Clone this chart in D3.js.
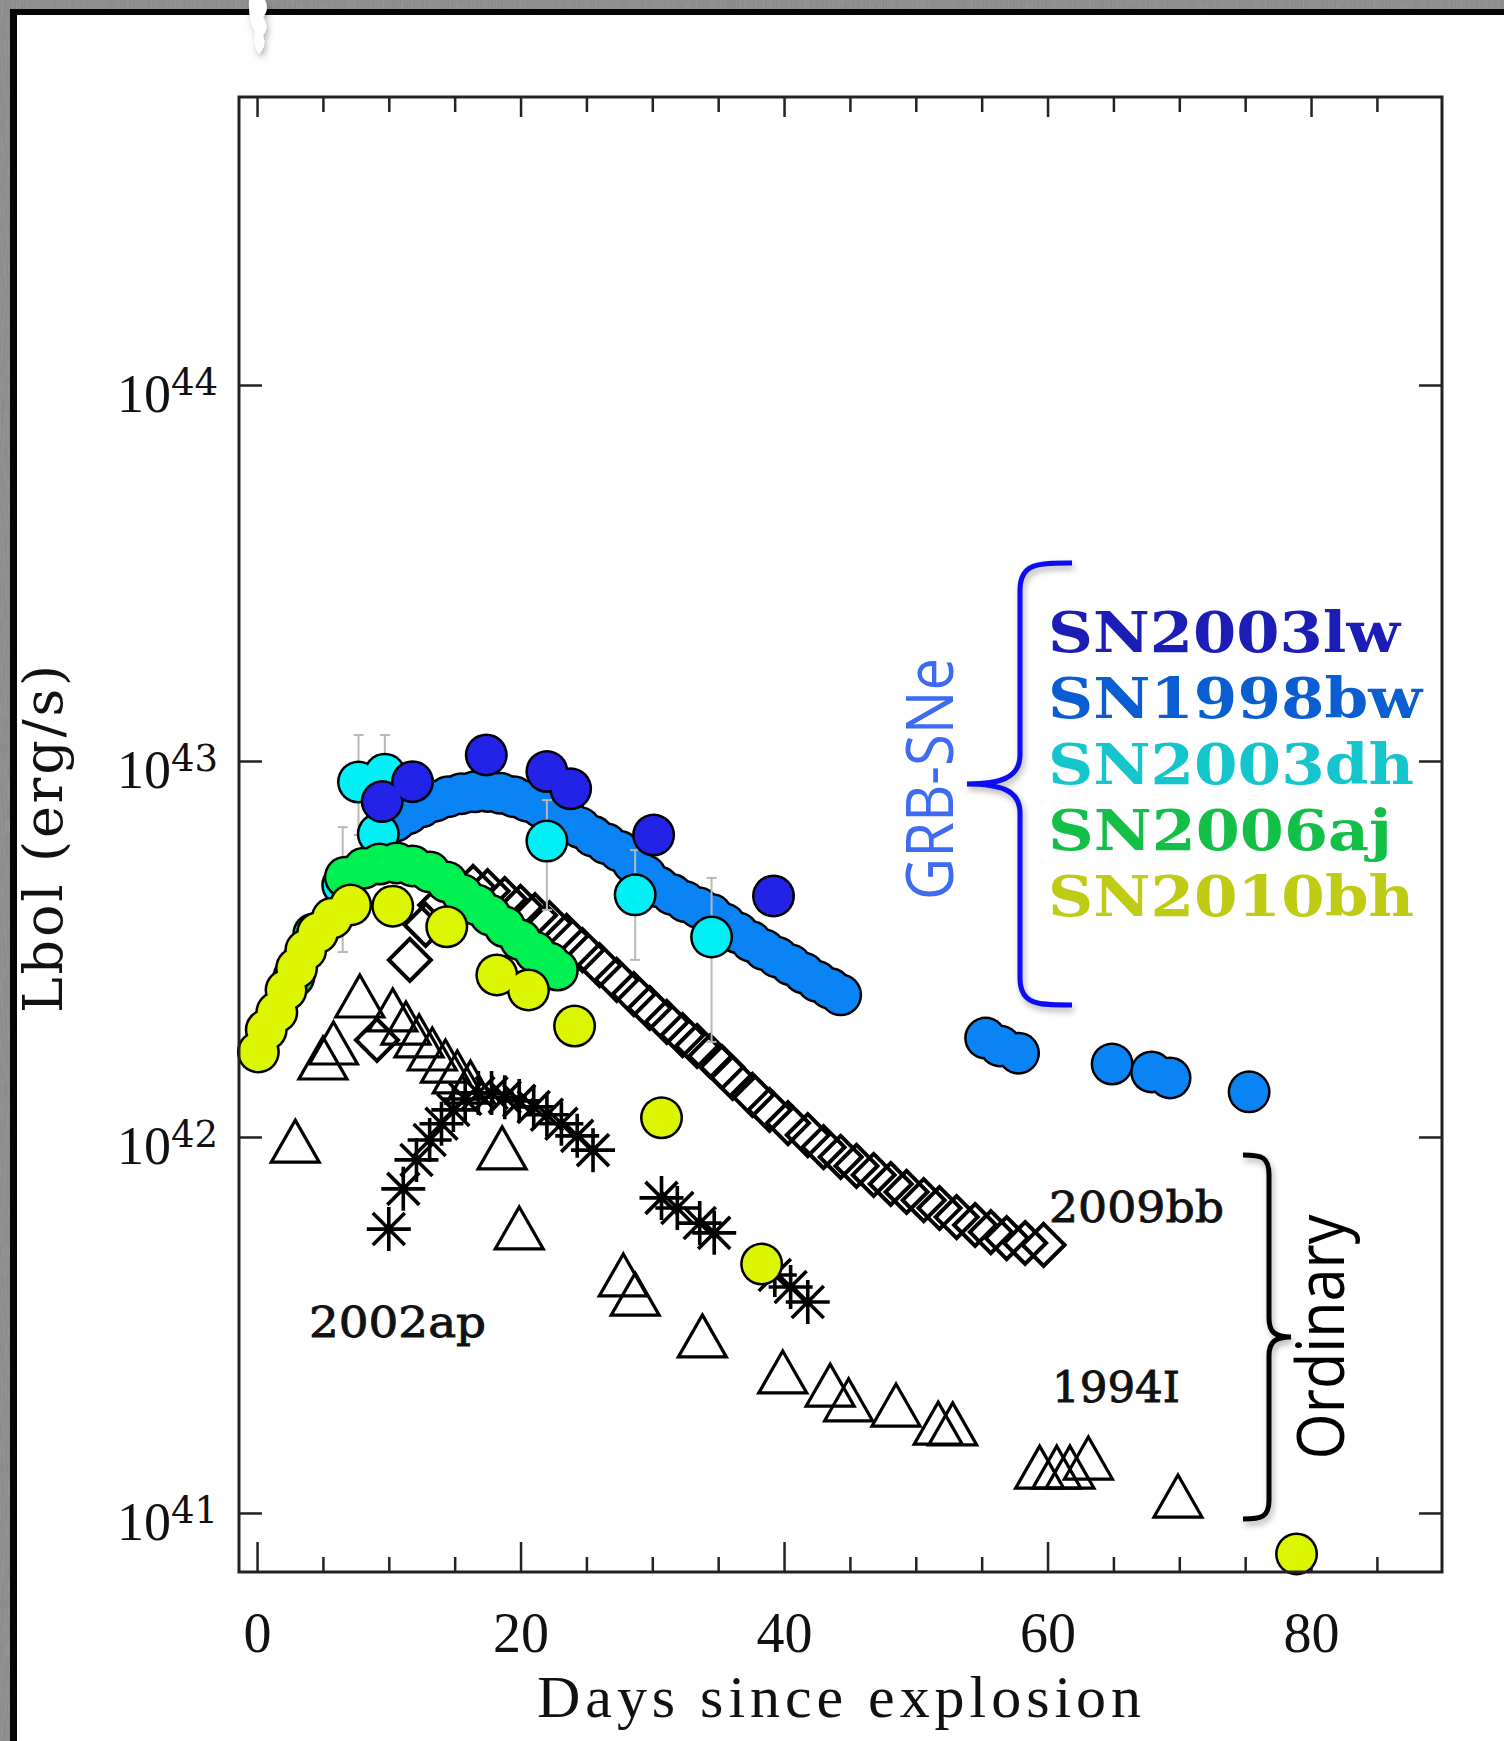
<!DOCTYPE html>
<html>
<head>
<meta charset="utf-8">
<script src="https://cdn.jsdelivr.net/npm/d3@7"></script>
<style>
  body { margin: 0; background: #8a8a8a; }
</style>
</head>
<body>
<div id="graf"></div>
<script>
// -- Data: days since explosion / log10 Lbol (erg/s)
const lw03Day = [9.5, 11.8, 17.4, 22.0, 23.8, 30.1, 39.2]
const lw03Lum = [42.892, 42.945, 43.016, 42.972, 42.926, 42.803, 42.641]

const bw98Day = [10.5, 11.5, 12.5, 13.5, 14.5, 15.5, 16.5, 17.5, 18.5, 19.5, 20.5, 21.5, 22.5, 23.5, 24.5, 25.5, 26.5, 27.5, 28.5, 29.5,
                 30.5, 31.5, 32.5, 33.5, 34.5, 35.5, 36.5, 37.5, 38.5, 39.5, 40.5, 41.5, 42.5, 43.5, 44.3,
                 55.3, 56.4, 57.8, 64.9, 67.9, 69.3, 75.3]
const bw98Lum = [42.840, 42.860, 42.878, 42.893, 42.905, 42.913, 42.918, 42.919, 42.914, 42.905, 42.893, 42.878, 42.863, 42.845, 42.823, 42.800, 42.780, 42.760, 42.730, 42.695,
                 42.665, 42.645, 42.626, 42.610, 42.592, 42.567, 42.543, 42.520, 42.498, 42.478, 42.458, 42.436, 42.414, 42.395, 42.378,
                 42.263, 42.242, 42.223, 42.194, 42.173, 42.157, 42.120]

const dh03Day = [6.5, 7.7, 9.7, 9.2, 22.0, 28.7, 34.5]
const dh03Lum = [42.670, 42.944, 42.965, 42.806, 42.787, 42.644, 42.532]
const dh03Lo  = [42.492, 42.803, 42.830, null, 42.604, 42.471, 42.253]
const dh03Hi  = [42.824, 43.069, 43.069, null, 42.896, 42.763, 42.689]

const aj06Day = [2.8, 4.3, 6.7, 8.1, 9.3, 10.6, 11.8, 13.1, 14.4, 15.6, 16.7, 17.7, 18.8, 20.0, 21.1, 22.2, 22.8]
const aj06Lum = [42.426, 42.540, 42.691, 42.715, 42.726, 42.729, 42.721, 42.705, 42.678, 42.644, 42.617, 42.590, 42.559, 42.524, 42.492, 42.463, 42.444]

const bh10Day = [0.1, 0.7, 1.5, 2.2, 3.0, 3.7, 4.6, 5.7, 7.1, 10.3, 14.4, 18.2, 20.6, 24.1, 30.7, 38.3, 78.9]
const bh10Lum = [42.226, 42.285, 42.332, 42.391, 42.449, 42.497, 42.543, 42.582, 42.617, 42.614, 42.559, 42.431, 42.391, 42.295, 42.051, 41.662, 40.891]

const bb09Day = [9.1, 11.6, 12.8, 13.9, 15.3, 16.4, 17.5, 18.8, 20.0, 21.1, 22.2, 23.5, 24.7, 26.0, 27.3, 28.6, 29.8, 31.1, 32.3, 33.4,
                 34.4, 35.3, 36.1, 37.6, 38.9, 40.3, 41.8, 43.0, 44.3, 45.5, 46.8, 48.1, 49.3, 50.6, 51.8, 53.1, 54.5, 55.7, 56.9, 58.3, 59.7]
const bb09Lum = [42.258, 42.471, 42.564, 42.617, 42.652, 42.665, 42.654, 42.633, 42.612, 42.590, 42.569, 42.535, 42.497, 42.457, 42.418, 42.380, 42.343, 42.306, 42.271, 42.242,
                 42.215, 42.186, 42.157, 42.112, 42.072, 42.037, 42.005, 41.973, 41.947, 41.923, 41.899, 41.875, 41.854, 41.832, 41.811, 41.787, 41.766, 41.747, 41.731, 41.718, 41.713]

const ap02Day = [10.0, 11.1, 12.1, 13.1, 14.0, 14.9, 15.8, 16.8, 17.8, 18.8, 19.9, 21.0, 22.0, 23.1, 24.3, 25.5, 30.7, 31.9, 33.6, 34.7, 39.3, 40.5, 41.8]
const ap02Lum = [41.755, 41.862, 41.939, 41.992, 42.035, 42.072, 42.101, 42.117, 42.117, 42.106, 42.096, 42.080, 42.059, 42.035, 42.003, 41.965, 41.838, 41.811, 41.771, 41.745, 41.633, 41.601, 41.561]

const i94Day = [2.9, 5.0, 5.8, 7.8, 10.3, 11.3, 12.3, 13.3, 14.3, 15.2, 16.2, 18.6, 19.9, 27.8, 28.7, 33.8, 39.9, 43.5, 44.9, 48.5, 51.7, 52.8, 59.4, 60.7, 61.7, 63.1, 69.9]
const i94Lum = [41.989, 42.210, 42.250, 42.375, 42.338, 42.303, 42.269, 42.234, 42.202, 42.173, 42.146, 41.971, 41.758, 41.633, 41.582, 41.471, 41.375, 41.340, 41.301, 41.287, 41.239, 41.237, 41.122, 41.122, 41.122, 41.146, 41.045]

const xTicks = [0, 20, 40, 60, 80]
const xMinor = [5, 10, 15, 25, 30, 35, 45, 50, 55, 65, 70, 75, 85]
const yTicks = [41, 42, 43, 44]

const legendNames  = ['SN2003lw', 'SN1998bw', 'SN2003dh', 'SN2006aj', 'SN2010bh']
const legendColors = ['#1c1cb6', '#0b5ed2', '#14c6cc', '#13bf46', '#bfcb14']

// -- Canvas
const W = 1504, H = 1741
const svg = d3.select('#graf').append('svg')
              .attr('width', W)
              .attr('height', H)

const defs = svg.append('defs')
const noise = defs.append('filter').attr('id', 'noise')
noise.append('feTurbulence').attr('type', 'fractalNoise').attr('baseFrequency', '0.9 0.05').attr('numOctaves', 2)
noise.append('feColorMatrix').attr('type', 'saturate').attr('values', 0)
const shadow = defs.append('filter').attr('id', 'shadow').attr('x', '-20%').attr('y', '-10%').attr('width', '160%').attr('height', '130%')
shadow.append('feDropShadow').attr('dx', 2).attr('dy', 4).attr('stdDeviation', 3).attr('flood-opacity', 0.3)

// -- Page frame (grey border, black line, white sheet)
svg.append('rect').attr('width', W).attr('height', H).attr('fill', '#888')
svg.append('rect').attr('width', W).attr('height', H).attr('filter', 'url(#noise)').attr('opacity', 0.25)
svg.append('rect').attr('x', 10).attr('y', 9).attr('width', W).attr('height', H).attr('fill', '#050505')
svg.append('rect').attr('x', 17).attr('y', 15).attr('width', W).attr('height', H).attr('fill', '#fff')
svg.append('path')
   .attr('d', 'M249,0 L265,0 Q270,9 263,17 Q270,27 263,36 Q267,46 259,54 Q252,45 255,32 Q248,20 249,0 Z')
   .attr('fill', '#fff')
   .attr('filter', 'url(#shadow)')

// -- Scales
const x = d3.scaleLinear().domain([-1.37, 89.94]).range([239, 1442])
const y = d3.scaleLinear().domain([40.843, 44.766]).range([1572, 97])

// -- Axes / ticks
const tickStyle = g => {
    g.select('.domain').remove()
    g.selectAll('line').attr('stroke', '#222').attr('stroke-width', 2.5)
}
svg.append('g').attr('transform', 'translate(0,1572)')
   .call(d3.axisBottom(x).tickValues(xTicks).tickSize(-30).tickFormat(''))
   .call(tickStyle)
svg.append('g').attr('transform', 'translate(0,1572)')
   .call(d3.axisBottom(x).tickValues(xMinor).tickSize(-15).tickFormat(''))
   .call(tickStyle)
svg.append('g').attr('transform', 'translate(0,97)')
   .call(d3.axisTop(x).tickValues(xTicks).tickSize(-20).tickFormat(''))
   .call(tickStyle)
svg.append('g').attr('transform', 'translate(0,97)')
   .call(d3.axisTop(x).tickValues(xMinor).tickSize(-15).tickFormat(''))
   .call(tickStyle)
svg.append('g').attr('transform', 'translate(239,0)')
   .call(d3.axisLeft(y).tickValues(yTicks).tickSize(-23).tickFormat(''))
   .call(tickStyle)
svg.append('g').attr('transform', 'translate(1442,0)')
   .call(d3.axisRight(y).tickValues(yTicks).tickSize(-23).tickFormat(''))
   .call(tickStyle)

// x labels
svg.append('g').attr('transform', 'translate(0,1572)')
   .call(d3.axisBottom(x).tickValues(xTicks).tickSize(0).tickPadding(40).tickFormat(d3.format('d')))
   .call(g => g.select('.domain').remove())
   .selectAll('text')
   .attr('font-family', 'Liberation Serif')
   .attr('font-size', 56)
   .attr('fill', '#111')

// y labels 10^n
const yLab = svg.append('g').selectAll('text')
                .data(yTicks)
                .join('text')
                .attr('x', 218)
                .attr('y', d => y(d) + 27)
                .attr('text-anchor', 'end')
                .attr('fill', '#111')
yLab.append('tspan').text('10')
    .attr('font-family', 'Liberation Serif')
    .attr('font-size', 54)
yLab.append('tspan').text(d => d)
    .attr('font-family', 'DejaVu Serif')
    .attr('font-size', 37)
    .attr('dy', -17)

// axis titles
svg.append('text')
   .attr('x', 839).attr('y', 1717)
   .attr('text-anchor', 'middle')
   .attr('font-family', 'Liberation Serif')
   .attr('font-size', 60)
   .attr('textLength', 604)
   .attr('lengthAdjust', 'spacing')
   .attr('fill', '#111')
   .text('Days since explosion')
svg.append('text')
   .attr('transform', 'translate(62,839) rotate(-90)')
   .attr('text-anchor', 'middle')
   .attr('font-family', 'DejaVu Serif')
   .attr('font-size', 54)
   .attr('textLength', 348)
   .attr('lengthAdjust', 'spacing')
   .attr('fill', '#111')
   .text('Lbol (erg/s)')

// -- Marker shapes
const triPath = 'M0,-21 L24,21 L-24,21 Z'
const diaPath = 'M0,-21 L21,0 L0,21 L-21,0 Z'
const astPath = 'M-22,0 L22,0 M0,-22 L0,22 M-16,-16 L16,16 M-16,16 L16,-16'
const pos = d => `translate(${x(d[0])},${y(d[1])})`

function openMarks (days, lums, path, sw) {
    svg.append('g').selectAll('path')
       .data(d3.zip(days, lums))
       .join('path')
       .attr('d', path)
       .attr('transform', pos)
       .attr('fill', 'none')
       .attr('stroke', '#000')
       .attr('stroke-width', sw)
}

// circles: outline pass then fill pass, so overlapping bands stay clean
function circles (days, lums, color) {
    const data = d3.zip(days, lums)
    const g = svg.append('g')
    g.selectAll('circle.o').data(data).join('circle')
     .attr('class', 'o')
     .attr('cx', d => x(d[0])).attr('cy', d => y(d[1]))
     .attr('r', 21.5).attr('fill', '#000')
    g.selectAll('circle.f').data(data).join('circle')
     .attr('class', 'f')
     .attr('cx', d => x(d[0])).attr('cy', d => y(d[1]))
     .attr('r', 19).attr('fill', color)
}

openMarks(i94Day, i94Lum, triPath, 3.2)
openMarks(bb09Day, bb09Lum, diaPath, 4)
openMarks(ap02Day, ap02Lum, astPath, 3.6)

circles(bw98Day, bw98Lum, '#0a84f5')

// error bars SN2003dh
const errs = d3.zip(dh03Day, dh03Lo, dh03Hi).filter(d => d[1] !== null)
const eg = svg.append('g').attr('stroke', '#b8b8b8').attr('stroke-width', 2)
eg.selectAll('line.v').data(errs).join('line')
  .attr('class', 'v')
  .attr('x1', d => x(d[0])).attr('x2', d => x(d[0]))
  .attr('y1', d => y(d[1])).attr('y2', d => y(d[2]))
eg.selectAll('line.t').data(errs).join('line')
  .attr('class', 't')
  .attr('x1', d => x(d[0]) - 5).attr('x2', d => x(d[0]) + 5)
  .attr('y1', d => y(d[2])).attr('y2', d => y(d[2]))
eg.selectAll('line.b').data(errs).join('line')
  .attr('class', 'b')
  .attr('x1', d => x(d[0]) - 5).attr('x2', d => x(d[0]) + 5)
  .attr('y1', d => y(d[1])).attr('y2', d => y(d[1]))

circles(dh03Day, dh03Lum, '#00f0f5')
circles(aj06Day, aj06Lum, '#00f052')
circles(bh10Day, bh10Lum, '#dcf500')
circles(lw03Day, lw03Lum, '#2323e8')

// -- Plot frame
svg.append('rect')
   .attr('x', 239).attr('y', 97)
   .attr('width', 1442 - 239).attr('height', 1572 - 97)
   .attr('fill', 'none')
   .attr('stroke', '#222')
   .attr('stroke-width', 3)

// -- Object labels
const objLabels = [['2009bb', 1049, 1222, 175], ['2002ap', 309, 1337, 177], ['1994I', 1052, 1402, 128]]
svg.append('g').selectAll('text')
   .data(objLabels)
   .join('text')
   .attr('x', d => d[1]).attr('y', d => d[2])
   .attr('textLength', d => d[3])
   .attr('lengthAdjust', 'spacingAndGlyphs')
   .attr('font-family', 'DejaVu Serif')
   .attr('font-size', 43)
   .attr('fill', '#111')
   .attr('stroke', '#111')
   .attr('stroke-width', 0.9)
   .text(d => d[0])

// -- Legend
svg.append('g').selectAll('text')
   .data(legendNames)
   .join('text')
   .attr('x', 1048)
   .attr('y', (d, i) => 652 + i * 66)
   .attr('font-family', 'DejaVu Serif')
   .attr('font-weight', 'bold')
   .attr('font-size', 56)
   .attr('textLength', (d, i) => [352, 374, 366, 344, 366][i])
   .attr('lengthAdjust', 'spacingAndGlyphs')
   .attr('fill', (d, i) => legendColors[i])
   .text(d => d)

// -- Braces and group names
svg.append('path')
   .attr('d', 'M1072,563 C1040,563 1020,562 1020,590 L1020,755 C1020,778 1000,784 967,784 C1000,784 1020,790 1020,813 L1020,978 C1020,1006 1040,1005 1072,1005')
   .attr('fill', 'none')
   .attr('stroke', '#0a0af0')
   .attr('stroke-width', 5)
   .attr('filter', 'url(#shadow)')
svg.append('path')
   .attr('d', 'M1243,1155 C1262,1155 1269,1157 1269,1175 L1269,1318 C1269,1332 1275,1337 1291,1337 C1275,1337 1269,1342 1269,1356 L1269,1500 C1269,1517 1262,1519 1243,1519')
   .attr('fill', 'none')
   .attr('stroke', '#000')
   .attr('stroke-width', 5)
   .attr('filter', 'url(#shadow)')

svg.append('text')
   .attr('transform', 'translate(953,779) rotate(-90)')
   .attr('text-anchor', 'middle')
   .attr('font-family', 'Open Sans')
   .attr('font-size', 66)
   .attr('textLength', 242)
   .attr('lengthAdjust', 'spacingAndGlyphs')
   .attr('fill', '#3d6cf2')
   .text('GRB-SNe')
svg.append('text')
   .attr('transform', 'translate(1344,1337) rotate(-90)')
   .attr('text-anchor', 'middle')
   .attr('font-family', 'Open Sans')
   .attr('font-size', 66)
   .attr('textLength', 245)
   .attr('lengthAdjust', 'spacingAndGlyphs')
   .attr('fill', '#000')
   .text('Ordinary')
</script>
</body>
</html>
